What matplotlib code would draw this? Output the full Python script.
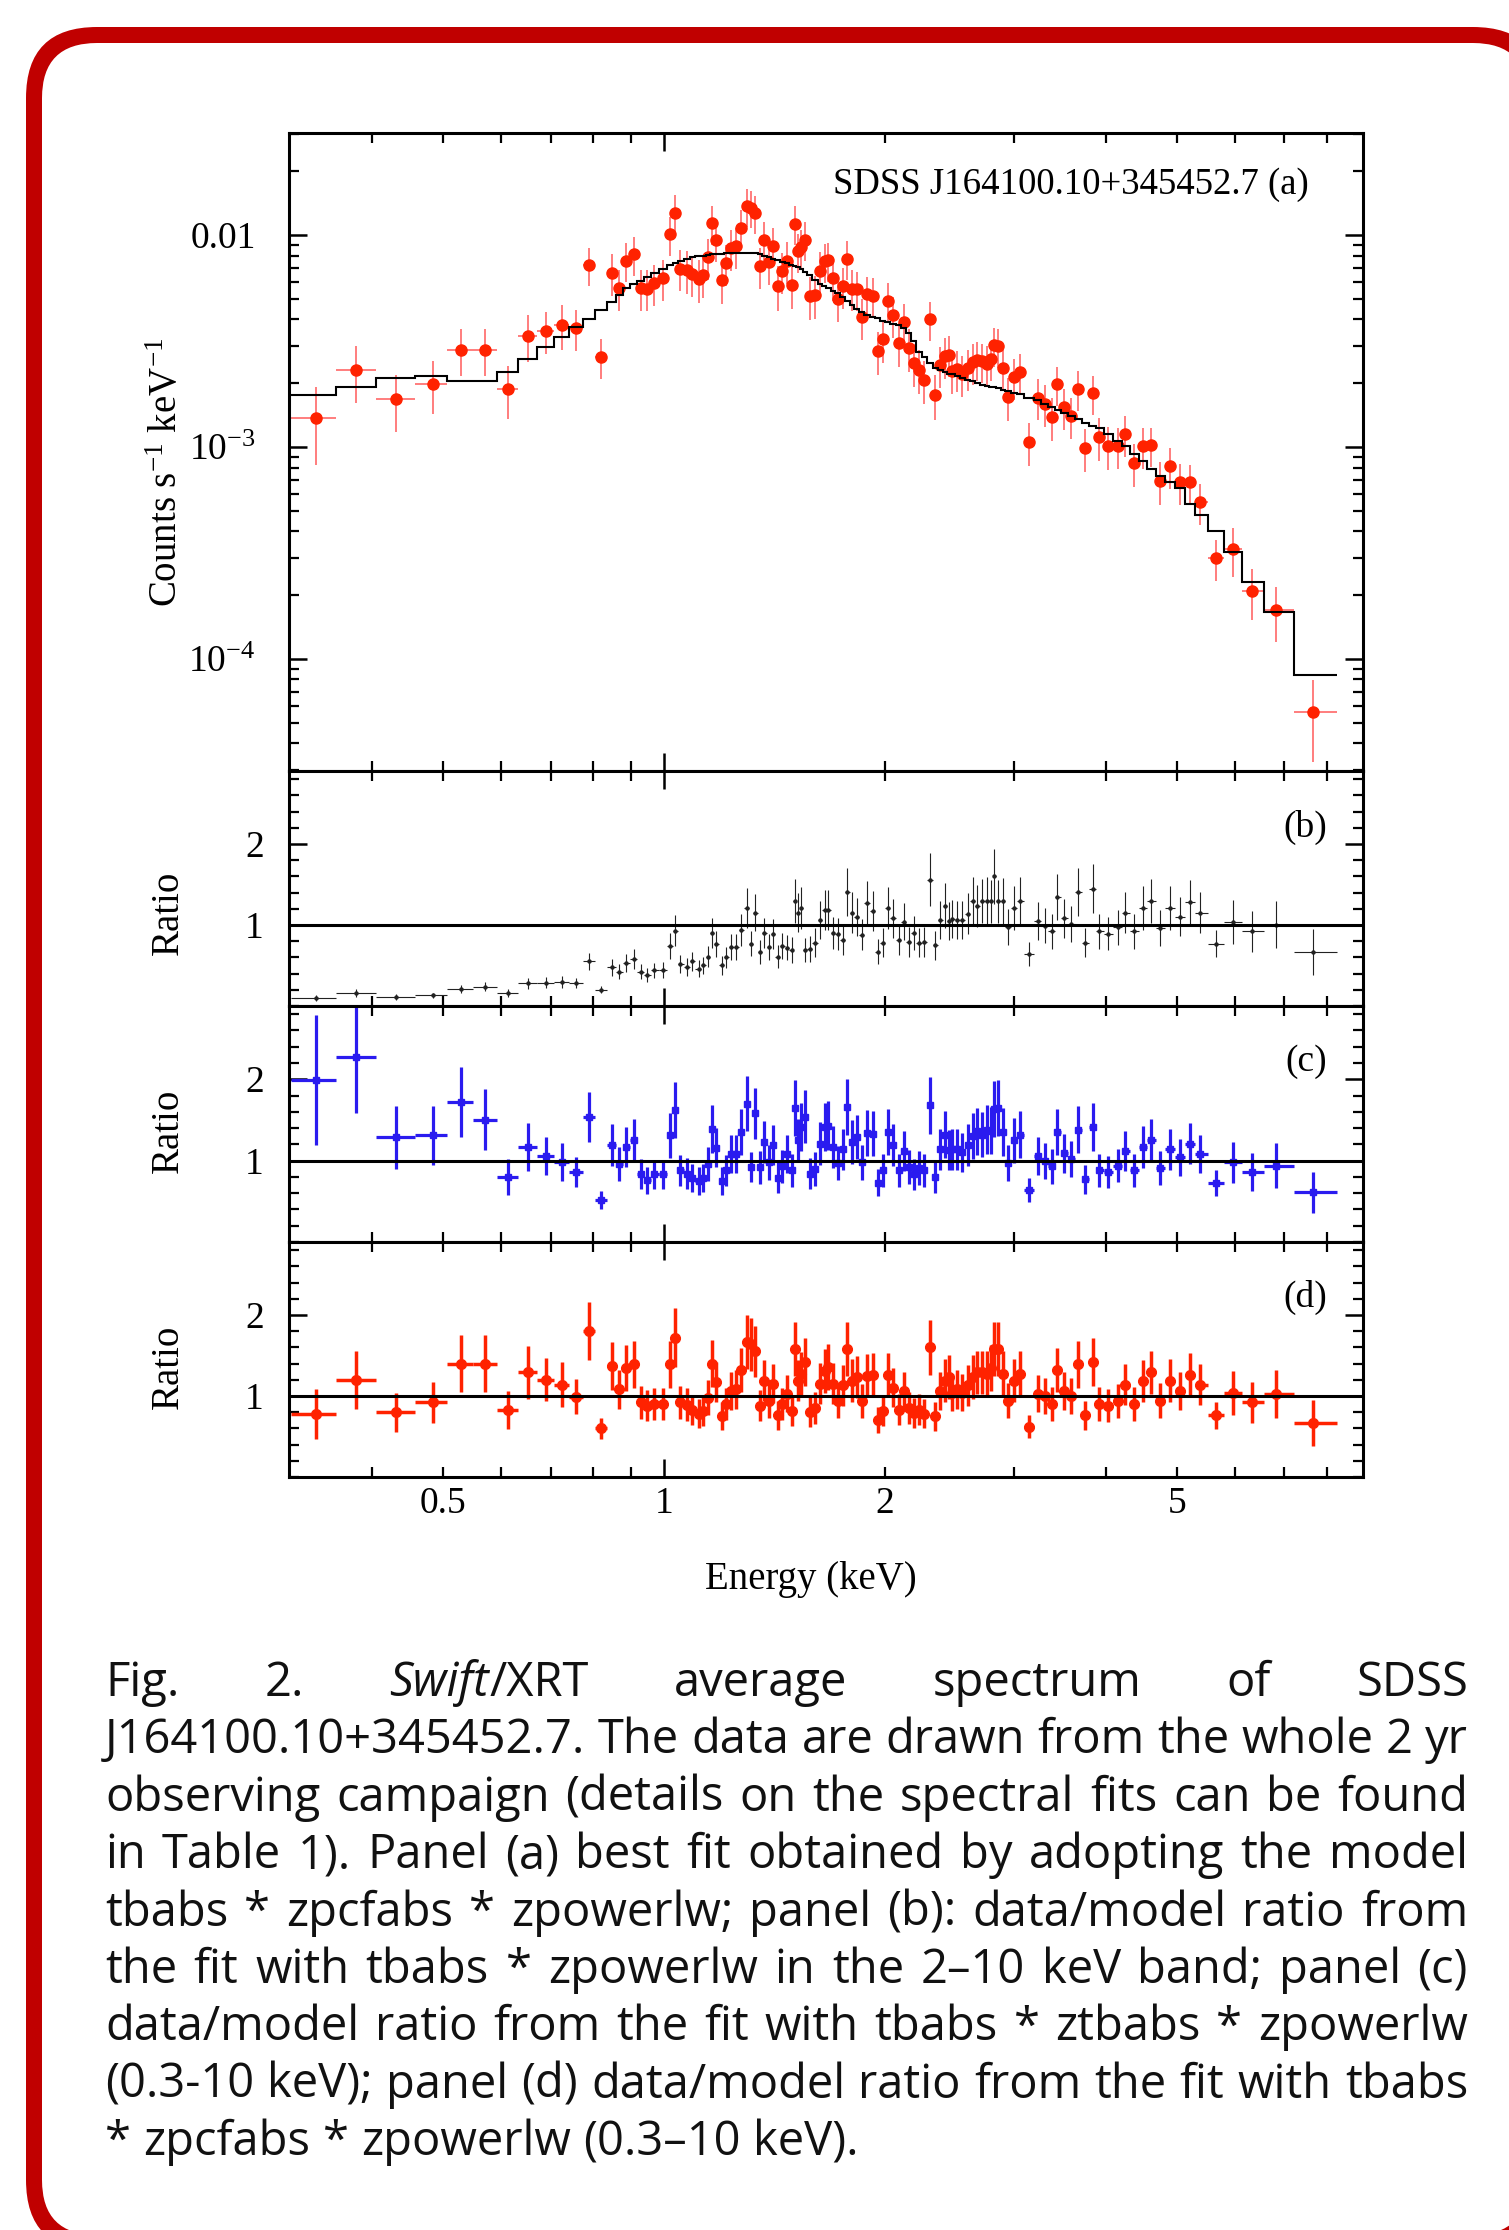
import numpy as np
import matplotlib
matplotlib.use("Agg")
import matplotlib.pyplot as plt
from matplotlib.patches import FancyBboxPatch
from matplotlib.transforms import IdentityTransform
from matplotlib.ticker import (FixedLocator, FixedFormatter, MultipleLocator,
                               NullFormatter, LogLocator)

plt.rcParams['font.family'] = ['Liberation Serif', 'DejaVu Serif']
plt.rcParams['mathtext.fontset'] = 'custom'
plt.rcParams['mathtext.rm'] = 'Liberation Serif'
plt.rcParams['mathtext.it'] = 'Liberation Serif:italic'

# bin centres (keV)
energy = np.array([
    0.335, 0.380, 0.431, 0.484, 0.529, 0.570, 0.613, 0.652, 0.689, 0.725,
    0.759, 0.790, 0.820, 0.849, 0.868, 0.887, 0.909, 0.929, 0.948, 0.969,
    0.997, 1.019, 1.035, 1.051, 1.074, 1.091, 1.115, 1.130, 1.148, 1.163,
    1.176, 1.197, 1.215, 1.234, 1.253, 1.273, 1.295, 1.313, 1.330, 1.351,
    1.369, 1.390, 1.408, 1.427, 1.449, 1.468, 1.491, 1.505, 1.521, 1.538,
    1.555, 1.579, 1.604, 1.632, 1.654, 1.672, 1.698, 1.724, 1.751, 1.775,
    1.802, 1.830, 1.858, 1.887, 1.925, 1.955, 1.985, 2.016, 2.051, 2.088,
    2.121, 2.153, 2.187, 2.226, 2.261, 2.300, 2.342, 2.378, 2.415, 2.442,
    2.469, 2.507, 2.546, 2.591, 2.631, 2.672, 2.714, 2.755, 2.792, 2.817,
    2.854, 2.892, 2.944, 2.996, 3.049, 3.145, 3.228, 3.300, 3.374, 3.434,
    3.509, 3.588, 3.660, 3.750, 3.834, 3.918, 4.023, 4.158, 4.251, 4.374,
    4.491, 4.611, 4.745, 4.883, 5.047, 5.205, 5.380, 5.646, 5.951, 6.317,
    6.823, 7.651])
e_first, e_last = 0.31, 8.25

# panel (a): counts s-1 keV-1 and best-fit model per bin
counts = np.array([
    1.37e-3, 2.30e-3, 1.69e-3, 1.99e-3, 2.87e-3, 2.87e-3, 1.88e-3, 3.34e-3, 3.54e-3, 3.77e-3,
    3.63e-3, 7.20e-3, 2.66e-3, 6.64e-3, 5.63e-3, 7.56e-3, 8.13e-3, 5.61e-3, 5.59e-3, 5.94e-3,
    6.26e-3, 1.008e-2, 1.273e-2, 6.95e-3, 6.85e-3, 6.52e-3, 6.20e-3, 6.48e-3, 7.89e-3, 1.134e-2,
    9.48e-3, 6.11e-3, 7.38e-3, 8.69e-3, 8.86e-3, 1.082e-2, 1.369e-2, 1.345e-2, 1.271e-2, 7.13e-3,
    9.52e-3, 7.43e-3, 8.91e-3, 5.78e-3, 6.75e-3, 7.57e-3, 5.83e-3, 1.130e-2, 8.39e-3, 8.76e-3,
    9.51e-3, 5.16e-3, 5.23e-3, 6.79e-3, 7.53e-3, 7.62e-3, 6.27e-3, 4.98e-3, 5.76e-3, 7.74e-3,
    5.59e-3, 5.54e-3, 4.09e-3, 5.25e-3, 5.17e-3, 2.84e-3, 3.24e-3, 4.91e-3, 4.18e-3, 3.11e-3,
    3.87e-3, 2.93e-3, 2.49e-3, 2.32e-3, 2.07e-3, 4.00e-3, 1.76e-3, 2.44e-3, 2.68e-3, 2.73e-3,
    2.29e-3, 2.33e-3, 2.20e-3, 2.35e-3, 2.51e-3, 2.58e-3, 2.54e-3, 2.46e-3, 2.59e-3, 3.02e-3,
    2.99e-3, 2.36e-3, 1.72e-3, 2.14e-3, 2.25e-3, 1.06e-3, 1.71e-3, 1.60e-3, 1.39e-3, 1.98e-3,
    1.54e-3, 1.40e-3, 1.88e-3, 9.9e-4, 1.79e-3, 1.11e-3, 1.01e-3, 1.01e-3, 1.15e-3, 8.4e-4,
    1.01e-3, 1.02e-3, 6.9e-4, 8.1e-4, 6.8e-4, 6.8e-4, 5.5e-4, 3.0e-4, 3.3e-4, 2.1e-4,
    1.7e-4, 5.6e-5])
model = np.array([
    1.75e-3, 1.92e-3, 2.11e-3, 2.16e-3, 2.05e-3, 2.05e-3, 2.26e-3, 2.59e-3, 2.95e-3, 3.31e-3,
    3.67e-3, 4.00e-3, 4.43e-3, 4.85e-3, 5.21e-3, 5.60e-3, 5.85e-3, 6.10e-3, 6.35e-3, 6.60e-3,
    6.95e-3, 7.25e-3, 7.40e-3, 7.55e-3, 7.70e-3, 7.85e-3, 7.95e-3, 8.00e-3, 8.05e-3, 8.10e-3,
    8.10e-3, 8.15e-3, 8.20e-3, 8.20e-3, 8.20e-3, 8.20e-3, 8.20e-3, 8.20e-3, 8.20e-3, 8.10e-3,
    8.00e-3, 7.90e-3, 7.75e-3, 7.60e-3, 7.50e-3, 7.35e-3, 7.20e-3, 7.15e-3, 7.05e-3, 6.90e-3,
    6.70e-3, 6.45e-3, 6.15e-3, 5.90e-3, 5.75e-3, 5.60e-3, 5.45e-3, 5.30e-3, 5.10e-3, 4.90e-3,
    4.70e-3, 4.50e-3, 4.35e-3, 4.20e-3, 4.10e-3, 4.05e-3, 3.95e-3, 3.90e-3, 3.80e-3, 3.75e-3,
    3.65e-3, 3.45e-3, 3.15e-3, 2.80e-3, 2.65e-3, 2.50e-3, 2.35e-3, 2.30e-3, 2.25e-3, 2.22e-3,
    2.20e-3, 2.16e-3, 2.12e-3, 2.08e-3, 2.04e-3, 2.00e-3, 1.97e-3, 1.94e-3, 1.92e-3, 1.91e-3,
    1.89e-3, 1.86e-3, 1.83e-3, 1.80e-3, 1.77e-3, 1.71e-3, 1.66e-3, 1.60e-3, 1.54e-3, 1.50e-3,
    1.45e-3, 1.40e-3, 1.35e-3, 1.30e-3, 1.26e-3, 1.23e-3, 1.15e-3, 1.07e-3, 1.01e-3, 9.3e-4,
    8.6e-4, 7.9e-4, 7.3e-4, 6.8e-4, 6.4e-4, 5.4e-4, 4.8e-4, 4.0e-4, 3.2e-4, 2.3e-4,
    1.67e-4, 8.4e-5])

# fractional 1-sigma error of each bin (same for all panels)
relerr = np.array([
    0.40, 0.30, 0.30, 0.28, 0.25, 0.25, 0.28, 0.25, 0.22, 0.24,
    0.22, 0.20, 0.21, 0.22, 0.22, 0.21, 0.21, 0.22, 0.22, 0.22,
    0.22, 0.21, 0.21, 0.22, 0.23, 0.22, 0.23, 0.22, 0.22, 0.21,
    0.21, 0.23, 0.22, 0.22, 0.22, 0.21, 0.20, 0.20, 0.20, 0.22,
    0.21, 0.22, 0.21, 0.24, 0.22, 0.22, 0.23, 0.21, 0.21, 0.21,
    0.21, 0.23, 0.23, 0.22, 0.21, 0.21, 0.22, 0.22, 0.22, 0.21,
    0.22, 0.21, 0.22, 0.21, 0.21, 0.23, 0.23, 0.21, 0.22, 0.23,
    0.22, 0.23, 0.23, 0.23, 0.23, 0.21, 0.24, 0.22, 0.22, 0.22,
    0.22, 0.22, 0.22, 0.22, 0.22, 0.21, 0.21, 0.22, 0.21, 0.21,
    0.21, 0.22, 0.23, 0.22, 0.22, 0.23, 0.22, 0.22, 0.23, 0.21,
    0.22, 0.22, 0.21, 0.23, 0.21, 0.23, 0.23, 0.22, 0.22, 0.23,
    0.22, 0.21, 0.23, 0.22, 0.22, 0.21, 0.22, 0.22, 0.26, 0.27,
    0.29, 0.42])

# panel (b): tbabs*zpowerlw fitted in 2-10 keV
ratio_b = np.array([
    0.10, 0.16, 0.11, 0.13, 0.21, 0.24, 0.16, 0.28, 0.29, 0.30,
    0.28, 0.55, 0.20, 0.48, 0.42, 0.53, 0.58, 0.42, 0.38, 0.44,
    0.45, 0.74, 0.93, 0.52, 0.48, 0.55, 0.46, 0.50, 0.61, 0.90,
    0.76, 0.50, 0.60, 0.73, 0.73, 0.94, 1.21, 0.77, 1.15, 0.67,
    0.90, 0.73, 0.89, 0.61, 0.74, 0.72, 0.69, 1.30, 1.15, 1.21,
    0.69, 0.70, 0.78, 1.06, 1.18, 1.18, 0.90, 0.89, 0.81, 1.41,
    1.15, 1.10, 0.88, 1.27, 1.17, 0.67, 0.78, 1.21, 1.08, 0.81,
    1.04, 0.79, 0.90, 0.78, 0.79, 1.56, 0.75, 1.06, 1.24, 1.05,
    1.07, 1.06, 1.06, 1.14, 1.30, 1.23, 1.30, 1.30, 1.29, 1.60,
    1.29, 1.29, 0.97, 1.21, 1.30, 0.64, 1.05, 0.99, 0.92, 1.35,
    1.08, 1.01, 1.41, 0.78, 1.45, 0.92, 0.89, 0.97, 1.15, 0.92,
    1.21, 1.30, 0.96, 1.21, 1.10, 1.28, 1.15, 0.77, 1.04, 0.92,
    1.00, 0.67])

# panel (c): tbabs*ztbabs*zpowerlw
ratio_c = np.array([
    1.99, 2.27, 1.29, 1.31, 1.72, 1.50, 0.80, 1.17, 1.06, 0.98,
    0.86, 1.54, 0.52, 1.19, 0.96, 1.17, 1.25, 0.84, 0.76, 0.83,
    0.83, 1.31, 1.62, 0.88, 0.84, 0.79, 0.75, 0.79, 0.96, 1.39,
    1.16, 0.75, 0.88, 1.08, 1.08, 1.35, 1.70, 0.92, 1.58, 0.92,
    1.23, 0.98, 1.19, 0.79, 0.93, 1.08, 0.88, 1.65, 1.25, 1.41,
    1.54, 0.84, 0.90, 1.21, 1.41, 1.43, 1.17, 0.97, 1.14, 1.66,
    1.23, 1.29, 0.98, 1.34, 1.33, 0.73, 0.88, 1.35, 1.19, 0.88,
    1.12, 0.92, 0.83, 0.91, 0.88, 1.68, 0.80, 1.14, 1.32, 1.13,
    1.14, 1.14, 1.10, 1.19, 1.30, 1.36, 1.32, 1.38, 1.37, 1.64,
    1.65, 1.35, 0.97, 1.25, 1.32, 0.64, 1.06, 1.00, 0.93, 1.35,
    1.09, 1.02, 1.38, 0.77, 1.41, 0.88, 0.86, 0.94, 1.12, 0.88,
    1.17, 1.25, 0.91, 1.14, 1.04, 1.21, 1.08, 0.73, 0.98, 0.86,
    0.94, 0.61])

# panel (d): tbabs*zpcfabs*zpowerlw
ratio_d = np.array([
    0.78, 1.20, 0.80, 0.92, 1.40, 1.40, 0.83, 1.29, 1.20, 1.14,
    0.99, 1.80, 0.60, 1.37, 1.08, 1.35, 1.39, 0.92, 0.88, 0.90,
    0.90, 1.39, 1.72, 0.92, 0.89, 0.83, 0.78, 0.81, 0.98, 1.40,
    1.17, 0.75, 0.90, 1.06, 1.08, 1.32, 1.67, 1.64, 1.55, 0.88,
    1.19, 0.94, 1.15, 0.76, 0.90, 1.03, 0.81, 1.58, 1.19, 1.27,
    1.42, 0.80, 0.85, 1.15, 1.31, 1.36, 1.15, 0.94, 1.13, 1.58,
    1.19, 1.23, 0.94, 1.25, 1.26, 0.70, 0.82, 1.26, 1.10, 0.83,
    1.06, 0.85, 0.79, 0.83, 0.78, 1.60, 0.75, 1.06, 1.19, 1.23,
    1.04, 1.08, 1.04, 1.13, 1.23, 1.29, 1.29, 1.27, 1.35, 1.58,
    1.58, 1.27, 0.94, 1.19, 1.27, 0.62, 1.03, 1.00, 0.90, 1.32,
    1.06, 1.00, 1.39, 0.76, 1.42, 0.90, 0.88, 0.94, 1.14, 0.90,
    1.18, 1.29, 0.94, 1.19, 1.06, 1.26, 1.14, 0.76, 1.04, 0.92,
    1.02, 0.67])

caption = [
    "Fig. 2. Swift/XRT average spectrum of SDSS",
    "J164100.10+345452.7. The data are drawn from the whole 2 yr",
    "observing campaign (details on the spectral fits can be found",
    "in Table 1). Panel (a) best fit obtained by adopting the model",
    "tbabs * zpcfabs * zpowerlw; panel (b): data/model ratio from",
    "the fit with tbabs * zpowerlw in the 2\u201310 keV band; panel (c)",
    "data/model ratio from the fit with tbabs * ztbabs * zpowerlw",
    "(0.3-10 keV); panel (d) data/model ratio from the fit with tbabs",
    "* zpcfabs * zpowerlw (0.3\u201310 keV).",
]

RED = '#ff2200'
BLUE = '#2a1bef'

edges = np.concatenate([[e_first], np.sqrt(energy[:-1] * energy[1:]), [e_last]])
xerr = [energy - edges[:-1], edges[1:] - energy]

W, H = 1509, 2230
fig = plt.figure(figsize=(W / 100, H / 100), dpi=100)


def fxp(px):
    return px / W


def fyp(py):
    return 1 - py / H


# red rounded frame as a filled band (outer red, inner white), in pixels;
# right and bottom sides run off the page like in the original
def rounded(x0, y0, x1, y1, r, color, z):
    p = FancyBboxPatch((x0, H - y1), x1 - x0, y1 - y0,
                       boxstyle='round,pad=0,rounding_size=%g' % r,
                       fc=color, ec='none', lw=0, zorder=z,
                       transform=IdentityTransform())
    fig.add_artist(p)


rounded(26, 27, 1544, 2251, 71, '#c00000', -3)
rounded(42, 43, 1528, 2235, 55, 'white', -2)


def panel(top, bottom, share=None):
    return fig.add_axes([289 / W, 1 - bottom / H, 1074 / W, (bottom - top) / H],
                        sharex=share)


ax_a = panel(133, 771)
ax_b = panel(771, 1006, ax_a)
ax_c = panel(1006, 1242, ax_a)
ax_d = panel(1242, 1477, ax_a)
axes = [ax_a, ax_b, ax_c, ax_d]

# (a) spectrum + model
ax_a.errorbar(energy, counts, xerr=xerr, yerr=counts * relerr, fmt='o', ms=8,
              mfc=RED, mec=RED, ecolor='#ff5a5a', elinewidth=1.1, capsize=0, zorder=2)
ax_a.stairs(model, edges, baseline=None, color='k', lw=1.5, zorder=3)
ax_a.set_yscale('log')
ax_a.set_ylim(2.96e-5, 0.0303)
ax_a.yaxis.set_major_locator(FixedLocator([1e-4, 1e-3, 1e-2]))
ax_a.yaxis.set_major_formatter(FixedFormatter([r'$10^{-4}$', r'$10^{-3}$', '0.01']))
ax_a.yaxis.set_minor_locator(LogLocator(base=10, subs=np.arange(2, 10)))
ax_a.yaxis.set_minor_formatter(NullFormatter())

# ratio panels
ax_b.errorbar(energy, ratio_b, xerr=xerr, yerr=ratio_b * relerr, fmt='o', ms=2.2,
              color='#222222', elinewidth=0.8, capsize=0)
ax_c.errorbar(energy, ratio_c, xerr=xerr, yerr=ratio_c * relerr, fmt='s', ms=5,
              color=BLUE, elinewidth=2.3, capsize=0)
ax_d.errorbar(energy, ratio_d, xerr=xerr, yerr=ratio_d * relerr, fmt='o', ms=7,
              color=RED, elinewidth=2.5, capsize=0)
for ax in (ax_b, ax_c, ax_d):
    ax.axhline(1, color='k', lw=2.2, zorder=4)
    ax.set_ylim(0, 2.9)
    ax.yaxis.set_major_locator(FixedLocator([1, 2]))
    ax.yaxis.set_major_formatter(FixedFormatter(['1', '2']))
    ax.yaxis.set_minor_locator(MultipleLocator(0.2))
    ax.tick_params(axis='y', pad=18)

minor_x = [0.4, 0.5, 0.6, 0.7, 0.8, 0.9, 2, 3, 4, 5, 6, 7, 8]
minor_lab = ['', '0.5', '', '', '', '', '2', '', '', '5', '', '', '']
for ax in axes:
    ax.set_xscale('log')
    ax.set_xlim(0.308, 8.96)
    ax.xaxis.set_major_locator(FixedLocator([1]))
    ax.xaxis.set_major_formatter(FixedFormatter(['1']))
    ax.xaxis.set_minor_locator(FixedLocator(minor_x))
    ax.xaxis.set_minor_formatter(FixedFormatter(minor_lab))
    ax.tick_params(which='both', direction='in', top=True, right=True,
                   labelsize=27, colors='k')
    ax.tick_params(which='major', length=13, width=1.8)
    ax.tick_params(which='minor', length=7, width=1.6)
    for s in ax.spines.values():
        s.set_linewidth(2.2)
for ax in (ax_a, ax_b, ax_c):
    ax.tick_params(axis='x', which='both', labelbottom=False)
ax_a.tick_params(axis='y', pad=24)
ax_d.tick_params(axis='x', which='both', pad=7)

# axis labels and panel tags
fig.text(fxp(168), fyp(472), r'Counts s$^{-1}$ keV$^{-1}$', rotation=90,
         ha='center', va='center', fontsize=28)
for yc in (913, 1131, 1367):
    fig.text(fxp(168), fyp(yc), 'Ratio', rotation=90, ha='center', va='center',
             fontsize=28)
fig.text(fxp(811), fyp(1579), 'Energy (keV)', ha='center', va='center', fontsize=28)
fig.text(fxp(1309), fyp(185), 'SDSS J164100.10+345452.7 (a)', ha='right',
         va='center', fontsize=26.5)
for tag, yc in (('(b)', 827), ('(c)', 1062), ('(d)', 1297)):
    fig.text(fxp(1327), fyp(yc), tag, ha='right', va='center', fontsize=27)

# justified caption
cap_font = ['Open Sans', 'DejaVu Sans']
renderer = fig.canvas.get_renderer()


def text_w(s, size, style='normal'):
    t = fig.text(0, 0, s, fontsize=size, family=cap_font, style=style)
    w = t.get_window_extent(renderer).width
    t.remove()
    return w


def pieces(word):
    if word.startswith('Swift'):
        return [('Swift', 'italic'), (word[5:], 'normal')]
    return [(word, 'normal')]


left, right = 105, 1468
avail = right - left
base = 30
sp = text_w('a a', base) - text_w('aa', base)
natural = []
for line in caption[1:-1]:
    words = line.split(' ')
    tot = sum(text_w(p, base, st) for w in words for p, st in pieces(w))
    natural.append(tot + sp * (len(words) - 1))
size = base * avail / max(natural)
sp = text_w('a a', size) - text_w('aa', size)

for i, line in enumerate(caption):
    words = line.split(' ')
    parts = [[(p, st, text_w(p, size, st)) for p, st in pieces(w)] for w in words]
    wl = [sum(q[2] for q in w) for w in parts]
    gap = (avail - sum(wl)) / (len(words) - 1) if i < len(caption) - 1 else sp
    x = left
    yb = 1696 + i * 57.4
    for w, wlen in zip(parts, wl):
        xx = x
        for p, st, pw in w:
            fig.text(fxp(xx), fyp(yb), p, fontsize=size, family=cap_font, style=st,
                     ha='left', va='baseline', color='#111111')
            xx += pw
        x += wlen + gap

fig.savefig('out.png', dpi=100)
